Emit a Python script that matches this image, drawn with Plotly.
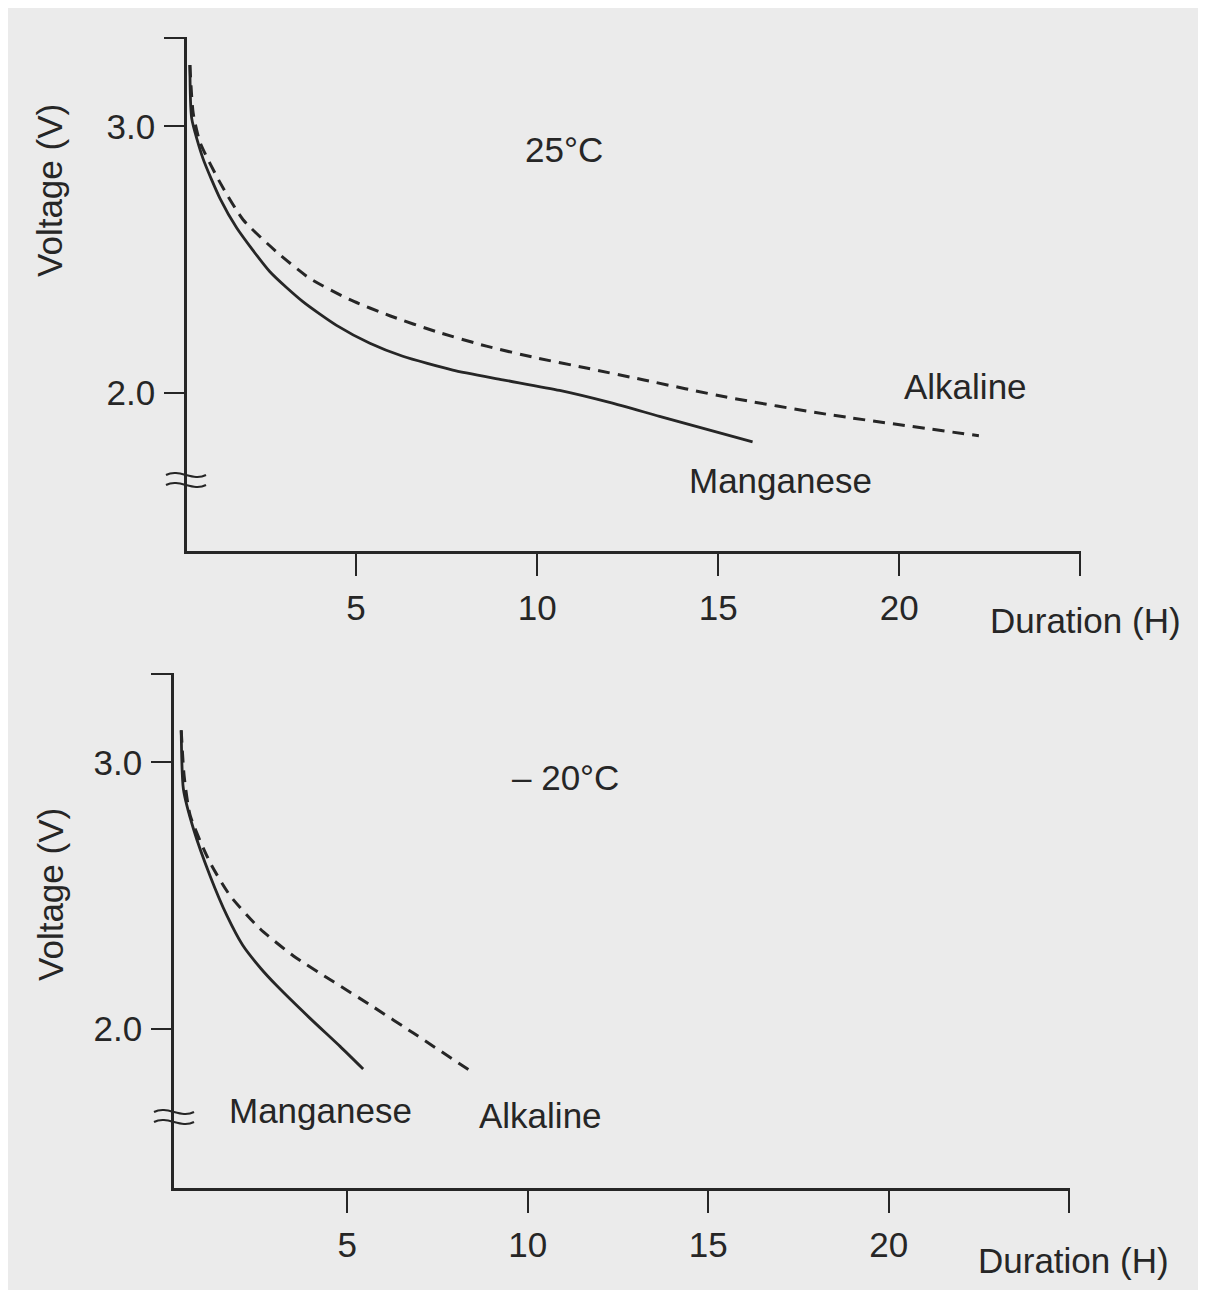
import plotly.graph_objects as go

# the page body adds an 8px margin, so the figure is drawn smaller and
# every pixel position below is given in screenshot coordinates
OFF = 8
W, H = 1206 - OFF, 1298 - 2 * OFF

# 25°C panel (duration in hours, voltage in V)
warm_mn_h = [0.41, 0.46, 0.77, 1.24, 1.70, 2.62, 3.53, 4.46, 5.38, 6.29, 7.67, 9.05, 10.62, 12.0, 13.38, 15.95]
warm_mn_v = [3.23, 3.03, 2.88, 2.73, 2.62, 2.455, 2.343, 2.254, 2.187, 2.138, 2.086, 2.05, 2.01, 1.965, 1.913, 1.817]
warm_alk_h = [0.41, 0.50, 0.69, 1.24, 1.88, 2.80, 3.72, 4.83, 5.93, 7.22, 8.60, 9.98, 11.36, 12.92, 15.22, 17.98, 22.2]
warm_alk_v = [3.23, 3.05, 2.94, 2.79, 2.65, 2.53, 2.43, 2.35, 2.29, 2.23, 2.176, 2.132, 2.094, 2.05, 1.985, 1.921, 1.84]

# -20°C panel
cold_mn_h = [0.40, 0.46, 0.74, 1.20, 1.67, 2.10, 2.60, 3.05, 3.97, 4.80, 5.44]
cold_mn_v = [3.12, 2.90, 2.75, 2.574, 2.424, 2.315, 2.228, 2.162, 2.04, 1.935, 1.85]
cold_alk_h = [0.40, 0.48, 0.65, 1.20, 1.76, 2.59, 3.51, 4.61, 5.72, 6.83, 8.40]
cold_alk_v = [3.12, 2.95, 2.80, 2.624, 2.499, 2.375, 2.274, 2.178, 2.083, 1.985, 1.844]

y_ticks = [2.0, 3.0, 3.33]
y_tick_text = ["2.0", "3.0", ""]
x_ticks = [5, 10, 15, 20, 25]
x_tick_text = ["5", "10", "15", "20", ""]

INK = "#262626"
PAPER = "#ebebeb"
FONT = "Liberation Sans, Arial, sans-serif"


def px(x):
    return (x - OFF) / W


def py(y):
    return 1 - (y - OFF) / H


fig = go.Figure()

line_solid = dict(color=INK, width=2.8, shape="spline", smoothing=0.6)
line_dash = dict(color=INK, width=3, dash="12px,8px", shape="spline", smoothing=0.6)

fig.add_trace(go.Scatter(x=warm_mn_h, y=warm_mn_v, mode="lines", line=line_solid, xaxis="x", yaxis="y"))
fig.add_trace(go.Scatter(x=warm_alk_h, y=warm_alk_v, mode="lines", line=line_dash, xaxis="x", yaxis="y"))
fig.add_trace(go.Scatter(x=cold_mn_h, y=cold_mn_v, mode="lines", line=line_solid, xaxis="x2", yaxis="y2"))
fig.add_trace(go.Scatter(x=cold_alk_h, y=cold_alk_v, mode="lines", line=line_dash, xaxis="x2", yaxis="y2"))

axis_common = dict(
    showline=True, linecolor=INK, linewidth=2.5, showgrid=False, zeroline=False,
    ticks="outside", tickcolor=INK, tickwidth=2, fixedrange=True,
    tickfont=dict(family=FONT, size=35, color=INK),
)

fig.update_layout(
    width=W, height=H, autosize=False,
    margin=dict(l=0, r=0, t=0, b=0),
    paper_bgcolor="white", plot_bgcolor="rgba(0,0,0,0)",
    showlegend=False,
    xaxis=dict(domain=[px(187), px(1081)], range=[0.33, 25.02], anchor="y",
               tickvals=x_ticks, ticktext=x_tick_text, ticklen=22, ticklabelstandoff=2, **axis_common),
    yaxis=dict(domain=[py(551), py(37)], range=[1.408, 3.335], anchor="x",
               tickvals=y_ticks, ticktext=y_tick_text, ticklen=20, ticklabelstandoff=2, **axis_common),
    xaxis2=dict(domain=[px(174), px(1070)], range=[0.2, 25.02], anchor="y2",
                tickvals=x_ticks, ticktext=x_tick_text, ticklen=22, ticklabelstandoff=2, **axis_common),
    yaxis2=dict(domain=[py(1188), py(673)], range=[1.404, 3.335], anchor="x2",
                tickvals=y_ticks, ticktext=y_tick_text, ticklen=20, ticklabelstandoff=2, **axis_common),
)

# scanned page background
fig.add_shape(type="rect", xref="paper", yref="paper", layer="below",
              x0=px(7), x1=1, y0=0, y1=py(5),
              fillcolor=PAPER, line=dict(width=0))


def wave(cx, cy, w=40, a=7):
    x0, x1 = cx - w / 2, cx + w / 2
    return (f"M {px(x0)},{py(cy)} C {px(x0 + w / 3)},{py(cy - a)} "
            f"{px(x0 + 2 * w / 3)},{py(cy + a)} {px(x1)},{py(cy)}")


# axis break marks
for cx, cy in [(186, 480), (174, 1117)]:
    for dy in (-5, 5):
        fig.add_shape(type="path", xref="paper", yref="paper",
                      path=wave(cx, cy + dy), line=dict(color=INK, width=2))

labels = [
    ("25°C", 564, 150, "center"),
    ("Alkaline", 965, 386, "center"),
    ("Manganese", 780, 480, "center"),
    ("Duration (H)", 988, 620, "left"),
    ("– 20°C", 565, 777, "center"),
    ("Manganese", 320, 1110, "center"),
    ("Alkaline", 540, 1115, "center"),
    ("Duration (H)", 976, 1260, "left"),
]
for text, x, y, xa in labels:
    fig.add_annotation(text=text, x=px(x), y=py(y), xref="paper", yref="paper",
                       xanchor=xa, yanchor="middle", showarrow=False,
                       font=dict(family=FONT, size=35, color=INK))

for y in (191, 895):
    fig.add_annotation(text="Voltage (V)", x=px(50), y=py(y), xref="paper", yref="paper",
                       xanchor="center", yanchor="middle", showarrow=False, textangle=-90,
                       font=dict(family=FONT, size=35, color=INK))

fig.write_html("out.html")
